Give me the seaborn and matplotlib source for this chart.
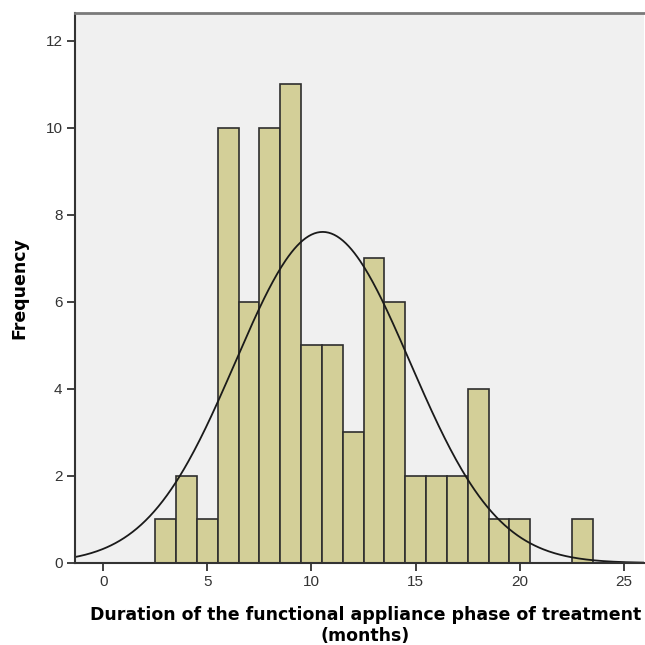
import numpy as np
import pandas as pd
import matplotlib
matplotlib.use("Agg")
import matplotlib.pyplot as plt
import seaborn as sns

# Duration (months) and number of patients in each 1-month bin
months = [3, 4, 5, 6, 7, 8, 9, 10, 11, 12, 13, 14, 15, 16, 17, 18, 19, 20, 23]
counts = [1, 2, 1, 10, 6, 10, 11, 5, 5, 3, 7, 6, 2, 2, 2, 4, 1, 1, 1]
x_ticks = [0, 5, 10, 15, 20, 25]
y_ticks = [0, 2, 4, 6, 8, 10, 12]

df = pd.DataFrame({"months": months, "count": counts})

sns.set_theme(style="white")
plt.rcParams["font.family"] = ["Liberation Sans", "DejaVu Sans"]

fig = plt.figure(figsize=(6.45, 6.45), dpi=100)
ax = fig.add_axes([75 / 645, 82 / 645, 569 / 645, 550 / 645])
ax.set_facecolor("#F0F0F0")

sns.histplot(data=df, x="months", weights="count", binwidth=1, binrange=(2.5, 23.5),
             color="#D3CF98", edgecolor="#2E2E2E", linewidth=1.2, alpha=1.0, ax=ax)

# Normal curve fitted to the sample, scaled to counts per 1-month bin
vals = np.repeat(months, counts)
mu, sd = vals.mean(), vals.std(ddof=1)
xs = np.linspace(-1.4, 26, 400)
ys = len(vals) * 1.0 / (sd * np.sqrt(2 * np.pi)) * np.exp(-0.5 * ((xs - mu) / sd) ** 2)
sns.lineplot(x=xs, y=ys, color="#1A1A1A", linewidth=1.3, ax=ax)

ax.set_xlim(-1.35, 25.96)
ax.set_ylim(0, 12.64)
ax.set_xticks(x_ticks)
ax.set_yticks(y_ticks)
ax.tick_params(axis="both", which="major", direction="out", length=6, width=1.3,
               color="#333333", labelsize=11, labelcolor="#333333", pad=3,
               bottom=True, left=True)

for side in ["left", "bottom"]:
    ax.spines[side].set_color("#333333")
    ax.spines[side].set_linewidth(1.5)
ax.spines["top"].set_color("#7A7A7A")
ax.spines["top"].set_linewidth(2)
ax.spines["right"].set_visible(False)

label_font = dict(family=["DejaVu Sans"], fontsize=12.5, fontweight="bold", color="black")
ax.set_xlabel("Duration of the functional appliance phase of treatment\n(months)",
              labelpad=12, linespacing=1.2, **label_font)
ax.xaxis.label.set_x(0.51)
ax.set_ylabel("Frequency", labelpad=12, **label_font)

fig.savefig("out.png", dpi=100)
